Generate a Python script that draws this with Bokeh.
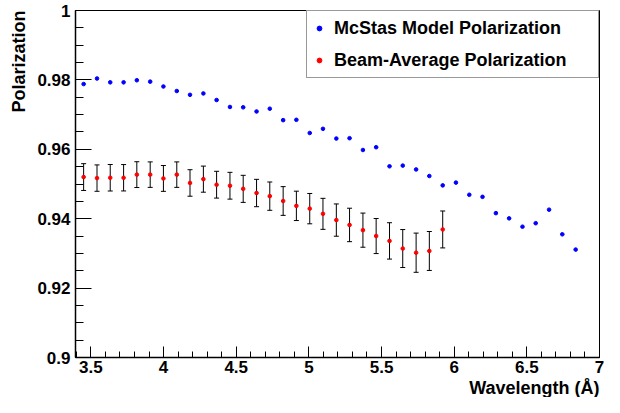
from bokeh.plotting import figure
from bokeh.models import (ColumnDataSource, Whisker, TeeHead, FixedTicker,
                          CustomJSTickFormatter, Range1d, Title)
from bokeh.embed import file_html
from bokeh.resources import INLINE

# ---- data ----
wavelength = [3.450, 3.542, 3.633, 3.725, 3.816, 3.908, 3.999, 4.091, 4.182, 4.274,
              4.365, 4.457, 4.548, 4.640, 4.731, 4.823, 4.914, 5.006, 5.097, 5.189,
              5.280, 5.372, 5.463, 5.555, 5.646, 5.738, 5.829, 5.921, 6.012, 6.104,
              6.195, 6.287, 6.378, 6.470, 6.561, 6.653, 6.744, 6.836]

mcstas_pol = [0.9788, 0.9804, 0.9793, 0.9793, 0.9799, 0.9795, 0.9781, 0.9768, 0.9757, 0.9761,
              0.9742, 0.9722, 0.9721, 0.9709, 0.9717, 0.9684, 0.9685, 0.9647, 0.9659, 0.9631,
              0.9632, 0.9598, 0.9606, 0.9551, 0.9553, 0.9542, 0.9523, 0.9496, 0.9504, 0.9469,
              0.9463, 0.9416, 0.9401, 0.9377, 0.9387, 0.9426, 0.9355, 0.9311]

beam_wavelength = wavelength[:28]
beam_pol = [0.9520, 0.9517, 0.9518, 0.9518, 0.9527, 0.9527, 0.9516, 0.9527, 0.9503, 0.9514,
            0.9498, 0.9495, 0.9486, 0.9474, 0.9465, 0.9451, 0.9437, 0.9429, 0.9414, 0.9396,
            0.9382, 0.9367, 0.9350, 0.9336, 0.9314, 0.9302, 0.9307, 0.9369]
beam_err = [0.00386, 0.00380, 0.00382, 0.00380, 0.00372, 0.00367, 0.00372, 0.00367, 0.00382, 0.00376,
            0.00386, 0.00386, 0.00390, 0.00394, 0.00408, 0.00414, 0.00423, 0.00437, 0.00447, 0.00465,
            0.00482, 0.00492, 0.00505, 0.00524, 0.00547, 0.00565, 0.00561, 0.00532]

x_major_ticks = [3.5, 4.0, 4.5, 5.0, 5.5, 6.0, 6.5, 7.0]
x_minor_ticks = [3.4, 3.5, 3.6, 3.7, 3.8, 3.9, 4.0, 4.1, 4.2, 4.3, 4.4, 4.5, 4.6, 4.7, 4.8, 4.9,
                 5.0, 5.1, 5.2, 5.3, 5.4, 5.5, 5.6, 5.7, 5.8, 5.9, 6.0, 6.1, 6.2, 6.3, 6.4, 6.5,
                 6.6, 6.7, 6.8, 6.9, 7.0]
y_major_ticks = [0.90, 0.92, 0.94, 0.96, 0.98, 1.00]
y_minor_ticks = [0.900, 0.905, 0.910, 0.915, 0.920, 0.925, 0.930, 0.935, 0.940, 0.945, 0.950,
                 0.955, 0.960, 0.965, 0.970, 0.975, 0.980, 0.985, 0.990, 0.995, 1.000]

FONT = "Liberation Sans"

p = figure(width=604, height=397, output_backend="svg", toolbar_location=None,
           x_range=Range1d(3.394, 7.0), y_range=Range1d(0.9, 1.0),
           min_border_left=73, min_border_right=5, min_border_top=10, min_border_bottom=36)
p.grid.visible = False
p.outline_line_color = "black"
p.outline_line_width = 1
p.background_fill_color = "white"
p.border_fill_color = "white"

# error bars
beam_src = ColumnDataSource(dict(
    x=beam_wavelength, y=beam_pol,
    upper=[v + e for v, e in zip(beam_pol, beam_err)],
    lower=[v - e for v, e in zip(beam_pol, beam_err)]))
wh = Whisker(base="x", upper="upper", lower="lower", source=beam_src,
             line_color="black", line_width=1,
             upper_head=TeeHead(size=5, line_color="black", line_width=1),
             lower_head=TeeHead(size=5, line_color="black", line_width=1))
p.add_layout(wh)

mc_src = ColumnDataSource(dict(x=wavelength, y=mcstas_pol))
p.scatter("x", "y", source=mc_src, size=3.6, color="#0000ff",
          legend_label="McStas Model Polarization")
p.scatter("x", "y", source=beam_src, size=3.6, color="#ff0000",
          legend_label="Beam-Average Polarization")

fmt = CustomJSTickFormatter(code="return String(parseFloat(tick.toFixed(3)));")

xa = p.xaxis[0]
xa.ticker = FixedTicker(ticks=x_major_ticks, minor_ticks=x_minor_ticks)
xa.formatter = fmt
xa.major_tick_in = 11
xa.major_tick_out = 0
xa.minor_tick_in = 6
xa.minor_tick_out = 0
xa.major_label_standoff = 3
ya = p.yaxis[0]
ya.ticker = FixedTicker(ticks=y_major_ticks, minor_ticks=y_minor_ticks)
ya.formatter = fmt
ya.major_tick_in = 16
ya.major_tick_out = 0
ya.minor_tick_in = 8
ya.minor_tick_out = 0
ya.major_label_standoff = 5

for ax in (xa, ya):
    ax.axis_line_color = "black"
    ax.axis_line_width = 1.5
    ax.major_tick_line_color = "black"
    ax.minor_tick_line_color = "black"
    ax.major_label_text_font = FONT
    ax.major_label_text_font_style = "bold"
    ax.major_label_text_font_size = "17px"
    ax.major_label_text_color = "black"
    ax.major_label_text_line_height = 1.0

p.add_layout(Title(text="Wavelength (Å)", align="right", text_font=FONT,
                   text_font_style="bold", text_font_size="18px",
                   text_line_height=1.0,
                   text_color="black", standoff=0), "below")
p.add_layout(Title(text="Polarization", align="right", text_font=FONT,
                   text_font_style="bold", text_font_size="18px",
                   text_color="black", standoff=12), "left")

lg = p.legend[0]
lg.location = "top_right"
lg.margin = 0
lg.padding = 6
lg.spacing = 10
lg.glyph_width = 12
lg.glyph_height = 22
lg.label_standoff = 9
lg.label_width = 258
lg.label_height = 22
lg.label_text_font = FONT
lg.label_text_font_style = "bold"
lg.label_text_font_size = "18px"
lg.label_text_color = "black"
lg.border_line_color = "#333333"
lg.border_line_width = 1
lg.background_fill_alpha = 1

open("out.html", "w").write(file_html(p, INLINE))
